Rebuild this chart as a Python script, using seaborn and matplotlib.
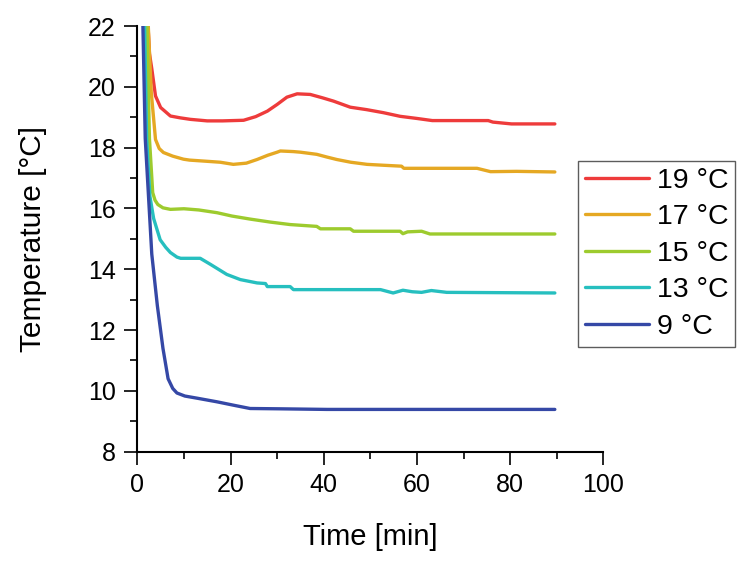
import numpy as np
import pandas as pd
import matplotlib
matplotlib.use("Agg")
import matplotlib.pyplot as plt
import seaborn as sns
from matplotlib.ticker import MultipleLocator

# ---- data ----
labels = ["19 °C", "17 °C", "15 °C", "13 °C", "9 °C"]
colors = ["#EE3B3B", "#E5A823", "#9DCB2E", "#26BFBF", "#3548A6"]

t19 = [2.2, 2.6, 3.1, 3.9, 5.0, 7.1, 9.2, 11.4, 15.0, 18.3, 22.8, 25.4, 27.9, 30.0, 32.1, 34.3,
       37.1, 39.7, 42.1, 45.7, 49.2, 52.8, 56.4, 60.0, 63.3, 75.3, 76.3, 80.3, 89.6]
T19 = [22.3, 21.1, 20.6, 19.7, 19.32, 19.04, 18.98, 18.93, 18.88, 18.88, 18.9, 19.02, 19.2,
       19.42, 19.66, 19.77, 19.75, 19.64, 19.53, 19.33, 19.25, 19.15, 19.03, 18.96, 18.89, 18.89,
       18.84, 18.78, 18.78]

t17 = [2.2, 3.0, 3.9, 4.7, 5.6, 7.6, 9.9, 11.2, 15.0, 17.8, 20.6, 23.4, 25.7, 28.0, 30.0, 30.7,
       33.5, 35.0, 38.5, 40.7, 42.8, 45.8, 49.3, 52.9, 56.7, 57.2, 72.9, 75.8, 81.4, 89.6]
T17 = [22.5, 19.8, 18.27, 17.97, 17.84, 17.72, 17.62, 17.59, 17.55, 17.52, 17.45, 17.49, 17.61,
       17.75, 17.85, 17.89, 17.87, 17.85, 17.78, 17.69, 17.61, 17.52, 17.45, 17.42, 17.39, 17.32,
       17.32, 17.21, 17.22, 17.2]

t15 = [2.0, 2.6, 3.3, 3.8, 4.4, 5.5, 7.1, 10.0, 13.2, 17.1, 20.3, 24.2, 28.6, 32.8, 38.5, 39.3,
       45.7, 46.4, 56.4, 57.0, 58.0, 61.0, 62.8, 89.6]
T15 = [22.5, 18.3, 16.52, 16.27, 16.13, 16.02, 15.97, 15.99, 15.95, 15.86, 15.75, 15.65, 15.55,
       15.47, 15.41, 15.33, 15.33, 15.25, 15.25, 15.17, 15.23, 15.25, 15.16, 15.16]

t13 = [1.5, 2.0, 2.7, 3.5, 4.9, 6.1, 7.1, 8.5, 9.3, 13.5, 15.7, 19.2, 22.1, 25.7, 27.5, 27.9,
       32.8, 33.5, 52.2, 54.9, 57.0, 59.0, 61.0, 63.1, 66.4, 89.6]
T13 = [22.5, 18.3, 16.4, 15.67, 14.97, 14.72, 14.55, 14.4, 14.36, 14.36, 14.16, 13.83, 13.66,
       13.55, 13.53, 13.43, 13.43, 13.33, 13.33, 13.22, 13.31, 13.26, 13.24, 13.3, 13.24, 13.22]

t9 = [1.0, 1.2, 1.7, 3.1, 4.3, 5.5, 6.6, 7.6, 8.5, 10.2, 12.8, 17.1, 20.6, 24.2, 30.5, 40.7,
      61.0, 89.6]
T9 = [23, 22, 18.3, 14.5, 12.8, 11.4, 10.4, 10.08, 9.93, 9.83, 9.76, 9.64, 9.53, 9.42, 9.41,
      9.39, 9.39, 9.39]

xticks = [0, 20, 40, 60, 80, 100]
yticks = [8, 10, 12, 14, 16, 18, 20, 22]

series = [(t19, T19), (t17, T17), (t15, T15), (t13, T13), (t9, T9)]
frames = []
for lab, (tt, TT) in zip(labels, series):
    frames.append(pd.DataFrame({"Time": tt, "Temp": TT, "Series": lab}))
df = pd.concat(frames, ignore_index=True)

# ---- style ----
sns.set_style("ticks")
plt.rcParams["font.family"] = ["Liberation Sans", "DejaVu Sans"]
plt.rcParams["text.color"] = "black"
plt.rcParams["axes.labelcolor"] = "black"

fig = plt.figure(figsize=(7.5, 5.62), dpi=100)
ax = fig.add_axes([0.1831, 0.1963, 0.6213, 0.7574])

sns.lineplot(data=df, x="Time", y="Temp", hue="Series", hue_order=labels,
             palette=dict(zip(labels, colors)), estimator=None, sort=True,
             linewidth=2.4, ax=ax, legend=True)

ax.set_xlim(0, 100)
ax.set_ylim(8, 22)
ax.set_xticks(xticks)
ax.set_yticks(yticks)
ax.xaxis.set_minor_locator(MultipleLocator(10))
ax.yaxis.set_minor_locator(MultipleLocator(1))
sns.despine(ax=ax)
for s in ["left", "bottom"]:
    ax.spines[s].set_linewidth(1.5)
    ax.spines[s].set_color("black")
ax.tick_params(which="major", direction="out", length=9.5, width=1.2, colors="black",
               labelcolor="black", labelsize=18, pad=6)
ax.tick_params(which="minor", direction="out", length=5, width=1.2, colors="black")

ax.set_xlabel("Time [min]", fontsize=21)
ax.set_ylabel("Temperature [°C]", fontsize=21.5)
ax.xaxis.set_label_coords(0.5, -0.168)
ax.yaxis.set_label_coords(-0.194, 0.5)

handles, labs = ax.get_legend_handles_labels()
ax.get_legend().remove()
for h in handles:
    h.set_linewidth(2.4)
leg = fig.legend(handles, labs, loc="upper left", bbox_to_anchor=(0.7703, 0.7135),
                 fontsize=20.5, frameon=True, fancybox=False, edgecolor="#333333",
                 handlelength=2.25, handletextpad=0.28, labelspacing=0.37,
                 borderpad=0.24, borderaxespad=0.0)
leg.get_frame().set_linewidth(1.0)

fig.savefig("out.png", dpi=100)
